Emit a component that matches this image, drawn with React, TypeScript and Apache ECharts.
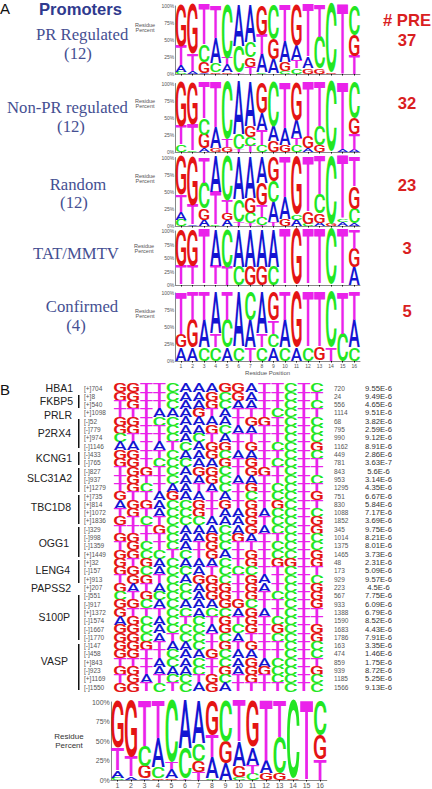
import React, { useEffect, useRef } from "react";
import * as echarts from "echarts";

const positions = ["1","2","3","4","5","6","7","8","9","10","11","12","13","14","15","16"];
const percentTicks = [0, 25, 50, 75, 100];

const prRegulated = ["C3 A9 T29 G59","A4 T25 G71","A2 G16 C25 T57","G2 C14 A37 T47","G2 A12 T9 C77","T2 C38 A60","T10 G14 C22 A54","C2 A27 T28 G43","A21 G29 C50","C4 G13 A31 T52","C8 T12 A22 G58","G8 A16 T76","G8 C46 T46","G2 C98","T100","T26 G31 C43"];
const nonPrRegulated = ["C10 T27 G63","C2 T38 G60","A5 G20 C23 T52","G5 A30 T65","G7 T11 C82","T4 C20 A76","T9 C13 G15 A63","C10 T21 A25 G44","G15 A22 C63","G10 A24 T66","C10 T10 A27 G53","A5 G17 T78","G10 C27 T63","C100","A3 T97","A3 T23 G23 C51"];
const randomSet = ["C9 A12 T24 G55","A2 T28 G70","A9 G16 C38 T37","C2 T47 A51","A9 G9 T19 C63","T5 C33 A62","T4 C15 G21 A60","T1 C12 T17 G32 A38","T5 A30 C31 G34","G10 A32 T58","A9 C8 G83","C3 G18 T79","A5 G13 C27 T55","G3 C97","A5 C4 T91","A4 C20 G33 T43"];
const tatMmtv = ["T34 G66","T34 G66","T100","T34 A66","T33 C67","C33 A67","G33 A67","G33 A67","C33 A67","T100","G100","T100","T100","C100","T100","A33 G33 T34"];
const confirmed = ["A20 G20 T60","A20 G40 T40","C20 A40 T40","C20 T20 A60","A20 C40 T40","C20 A80","T20 A40 C40","C20 T20 A60","A20 C20 T20 G40","C20 A40 T40","A20 G80","C20 T80","G20 T80","T20 C80","C40 T60","C20 A40 T40"];

const strandSites = ["[+]704","[+]8","[+]540","[+]1098","[-]52","[-]779","[+]974","[-]1146","[-]433","[-]765","[-]827","[-]937","[+]1279","[+]735","[+]814","[+]1072","[+]1836","[-]329","[-]998","[-]1359","[+]1449","[+]32","[-]157","[+]913","[+]207","[-]551","[-]917","[+]1372","[-]1574","[-]1667","[-]1770","[-]147","[-]458","[+]843","[-]923","[+]1169","[-]1550"];
const sequences = ["GGTTCAAAGGATTCTC","GGTTCAAGCGATTCTT","TGTTCAAGCAATTCTC","TTTAAAGTATTTCCTT","GGTCCAAAATGGTCTC","GGTTCAAGCAATTCTC","CTTTCACTATTTTCTC","AATATCAGGTGTCCTG","GGTTCAAGCAATTCTC","GGTCCCAAGTGTCCTT","TGGTCAGGCTGGTCTT","TGTTCAAGCAATTCTC","TGCTAATACTGTCCTT","GTTAGAATATCTCCTG","AGGACCGTGTGTGCTT","TGTACCGTAAGACCTC","GTCTCCCAAAGTCCTG","TTTGCAAACAGACCTG","GGTTCAAGCGATTCTC","TGCTCATGCTTTCCTC","GGCCTCTGATGTCCTG","GTGACAAACTGTGGTG","GGCACCATCCCTTCTT","TGGTCAGGCTGATCTC","GATACCAGGTGATCTG","CTGCCCAGGTGTCCTG","GGCACAAAGGCTTCTG","GTTTCCACCAGATCTT","AGCACTCTGTGTCCTT","GGCACCCAGCGTGCTG","GGCATCCTCATTCCTG","GGGTAACTGTGTTCTC","GGTTCAAGCAATTCTC","TTTACACTCAGACCTT","GGTAAACTGAGGCCTG","TGATCCTGCTGTCCTC","GGTCTCAGATTTTCTC"];
const stopSites = ["720","24","556","1114","68","795","990","1162","449","781","843","953","1295","751","830","1088","1852","345","1014","1375","1465","48","173","929","223","567","933","1388","1590","1683","1786","163","474","859","939","1185","1566"];
const eValues = ["9.55E-6","9.49E-6","4.65E-6","9.51E-6","3.82E-6","2.59E-6","9.12E-6","8.91E-6","2.86E-6","3.63E-7","5.6E-6","3.14E-6","4.35E-6","6.67E-6","5.84E-6","7.17E-6","3.69E-6","9.75E-6","8.21E-6","8.01E-6","3.73E-6","2.31E-6","5.09E-6","9.57E-6","4.5E-6","7.75E-6","6.09E-6","6.79E-6","8.52E-6","4.43E-6","7.91E-6","3.35E-6","1.46E-6","1.75E-6","8.72E-6","5.25E-6","9.13E-6"];

const LETTERS = ["A", "C", "G", "T"];
const COLORS: Record<string, string> = { A: "#1414d2", C: "#22e622", G: "#e41414", T: "#ea22ea" };
const INK: Record<string, number> = { A: 13, C: 11.9, G: 12.1, T: 11.6 };
const CAP = 14.2;
const SERIF = "'Liberation Serif', serif";
const SANS = "'Liberation Sans', Arial, sans-serif";
const TITLE_BLUE = "#454f92";
const AXIS_TEXT = "#555";

function letterItem(cx: number, cy: number, w: number, h: number, letter: string) {
  return {
    type: "text",
    x: cx,
    y: cy,
    scaleX: w / INK[letter],
    scaleY: h / CAP,
    silent: true,
    style: {
      text: letter,
      font: `500 20px Roboto, ${SANS}`,
      fill: COLORS[letter],
      align: "center",
      verticalAlign: "middle",
      textAlign: "center",
      textVerticalAlign: "middle",
    },
  };
}

function renderStackLetter(_: any, api: any) {
  const col = api.value(0);
  const p0 = api.coord([col, api.value(1)]);
  const p1 = api.coord([col, api.value(2)]);
  const band = api.size([1, 0])[0];
  return letterItem(p0[0], (p0[1] + p1[1]) / 2, band * 0.96, Math.abs(p0[1] - p1[1]), LETTERS[api.value(3)]);
}

function renderRowLetter(_: any, api: any) {
  const p = api.coord([api.value(0), api.value(1)]);
  const s = api.size([1, 1]);
  return letterItem(p[0], p[1], s[0] * 0.96, s[1] * 1.08, LETTERS[api.value(2)]);
}

function stackData(stacks: string[]) {
  const rows: number[][] = [];
  stacks.forEach((stack, col) => {
    let y = 0;
    stack.split(" ").forEach((t) => {
      const v = Number(t.slice(1));
      rows.push([col, y, y + v, LETTERS.indexOf(t[0])]);
      y += v;
    });
  });
  return rows;
}

const logos = [
  { stacks: prRegulated, top: 6, bottom: 74, left: 175.2, width: 184.8, fs: 5, bottomLabels: false },
  { stacks: nonPrRegulated, top: 83.5, bottom: 152, left: 175.2, width: 184.8, fs: 5, bottomLabels: false },
  { stacks: randomSet, top: 157.5, bottom: 226, left: 175.2, width: 184.8, fs: 5, bottomLabels: false },
  { stacks: tatMmtv, top: 231, bottom: 285, left: 175.2, width: 184.8, fs: 5, bottomLabels: false },
  { stacks: confirmed, top: 293, bottom: 361, left: 175.2, width: 184.8, fs: 5, bottomLabels: true },
  { stacks: prRegulated, top: 702, bottom: 782, left: 110.8, width: 216, fs: 7, bottomLabels: true },
];

function txt(text: string, x: number, y: number, font: string, fill: string, textAlign = "left") {
  return { type: "text", x, y, silent: true, style: { text, x: 0, y: 0, font, fill, align: textAlign, verticalAlign: "middle" } };
}

const geneLabels: [string, number, number][] = [
  ["HBA1", 73, 388], ["FKBP5", 73, 401], ["PRLR", 72, 415], ["P2RX4", 71, 433], ["KCNG1", 72, 458], ["SLC31A2", 72, 478],
  ["TBC1D8", 71, 507], ["OGG1", 69, 543], ["LENG4", 70, 570], ["PAPSS2", 71, 588], ["S100P", 70, 617], ["VASP", 68, 661],
];
const geneBars: [number, number][] = [[395, 408], [419, 448], [452, 465], [468, 492], [495, 524], [527, 557], [560, 583], [595, 640], [644, 690]];

function buildOption() {
  const grid: any[] = [];
  const xAxis: any[] = [];
  const yAxis: any[] = [];
  const series: any[] = [];

  logos.forEach((l, i) => {
    grid.push({ left: l.left, top: l.top, width: l.width, height: l.bottom - l.top, containLabel: false });
    xAxis.push({
      type: "category", gridIndex: i, data: positions, boundaryGap: true,
      axisLine: { show: true, lineStyle: { color: "#888", width: 1 } },
      axisTick: { show: true, alignWithLabel: true, length: 1.5, lineStyle: { color: "#111", width: 1 } },
      axisLabel: { show: l.bottomLabels, interval: 0, fontSize: l.fs, color: AXIS_TEXT, fontFamily: SANS, margin: 2 },
      splitLine: { show: false },
      name: i === 4 ? "Residue Position" : "",
      nameLocation: "middle", nameGap: 8.5,
      nameTextStyle: { fontSize: 6, color: AXIS_TEXT, fontFamily: SANS },
    });
    yAxis.push({
      type: "value", gridIndex: i, min: 0, max: 100, interval: 25,
      axisLine: { show: true, lineStyle: { color: "#888", width: 1 } },
      axisTick: { show: false },
      splitLine: { show: false },
      axisLabel: {
        fontSize: l.fs, color: AXIS_TEXT, fontFamily: SANS, margin: 1,
        customValues: percentTicks,
        formatter: (v: number) => `${v}%`,
        padding: [0, 0, 3, 0],
      },
    });
    series.push({
      type: "custom", xAxisIndex: i, yAxisIndex: i, coordinateSystem: "cartesian2d",
      clip: false, silent: true, renderItem: renderStackLetter,
      encode: { x: 0, y: [1, 2] }, data: stackData(l.stacks),
    });
  });

  const gi = logos.length;
  grid.push({ left: 113.5, top: 383.85, width: 210, height: 307.5 });
  xAxis.push({
    type: "category", gridIndex: gi, data: positions,
    axisLine: { show: false }, axisTick: { show: false }, axisLabel: { show: false }, splitLine: { show: false },
  });
  const rowAxis = (labels: string[], position: string, label: any) => ({
    type: "category", gridIndex: gi, data: labels, inverse: true, position,
    axisLine: { show: false }, axisTick: { show: false }, splitLine: { show: false },
    axisLabel: { interval: 0, fontFamily: SANS, padding: [2, 0, 0, 0], ...label },
  });
  const bIndex = yAxis.length;
  yAxis.push(rowAxis(strandSites, "left", { fontSize: 6.5, color: AXIS_TEXT, align: "left", margin: 29.5 }));
  yAxis.push(rowAxis(stopSites, "right", { fontSize: 6.5, color: AXIS_TEXT, align: "left", margin: 10.5 }));
  yAxis.push(rowAxis(eValues, "right", { fontSize: 7.7, color: "#333", align: "center", margin: 55 }));

  const rowData: number[][] = [];
  sequences.forEach((seq, r) => seq.split("").forEach((c, col) => rowData.push([col, r, LETTERS.indexOf(c)])));
  series.push({
    type: "custom", xAxisIndex: gi, yAxisIndex: bIndex, coordinateSystem: "cartesian2d",
    clip: false, silent: true, renderItem: renderRowLetter, encode: { x: 0, y: 1 }, data: rowData,
  });

  const red = "#d9201f";
  const big = `bold 16.6px ${SANS}`;
  const serif = `16.7px ${SERIF}`;
  const small = `5.5px ${SANS}`;
  const elements: any[] = [
    txt("A", 0, 8.5, `15px ${SANS}`, "#111"),
    txt("B", 0, 389, `15px ${SANS}`, "#111"),
    txt("Promoters", 39, 9, `bold 16.6px ${SANS}`, "#2f3a8e"),
    txt("PR Regulated", 36, 34, serif, TITLE_BLUE),
    txt("(12)", 78, 53, serif, TITLE_BLUE, "center"),
    txt("Non-PR regulated", 7, 107, serif, TITLE_BLUE),
    txt("(12)", 71, 126, serif, TITLE_BLUE, "center"),
    txt("Random", 78, 184, serif, TITLE_BLUE, "center"),
    txt("(12)", 74, 202, serif, TITLE_BLUE, "center"),
    txt("TAT/MMTV", 76, 253, serif, TITLE_BLUE, "center"),
    txt("Confirmed", 82, 306, serif, TITLE_BLUE, "center"),
    txt("(4)", 76, 325, serif, TITLE_BLUE, "center"),
    txt("# PRE", 383, 20, big, red),
    txt("37", 407, 40, big, red, "center"),
    txt("32", 407, 103, big, red, "center"),
    txt("23", 407, 185, big, red, "center"),
    txt("3", 407, 248, big, red, "center"),
    txt("5", 407, 311, big, red, "center"),
    txt("Residue", 145, 25, small, AXIS_TEXT, "center"), txt("Percent", 145, 30, small, AXIS_TEXT, "center"),
    txt("Residue", 145, 101, small, AXIS_TEXT, "center"), txt("Percent", 145, 106, small, AXIS_TEXT, "center"),
    txt("Residue", 145, 176, small, AXIS_TEXT, "center"), txt("Percent", 145, 181, small, AXIS_TEXT, "center"),
    txt("Residue", 144, 246, small, AXIS_TEXT, "center"), txt("Percent", 144, 250.5, small, AXIS_TEXT, "center"),
    txt("Residue", 145, 311, small, AXIS_TEXT, "center"), txt("Percent", 145, 315.5, small, AXIS_TEXT, "center"),
    txt("Residue", 69, 736, `8px ${SANS}`, "#333", "center"), txt("Percent", 69, 745, `8px ${SANS}`, "#333", "center"),
  ];
  geneLabels.forEach(([g, x, y]) => elements.push(txt(g, x, y, `10.5px ${SANS}`, "#222", "right")));
  geneBars.forEach(([y0, y1]) => elements.push({ type: "rect", silent: true, shape: { x: 78, y: y0, width: 1.5, height: y1 - y0 }, style: { fill: "#111" } }));

  return { animation: false, backgroundColor: "#fff", grid, xAxis, yAxis, series, graphic: { elements } };
}

export default function App() {
  const ref = useRef<HTMLDivElement>(null);
  useEffect(() => {
    const chart = echarts.init(ref.current!, undefined, { renderer: "svg" });
    chart.setOption(buildOption() as any);
    return () => chart.dispose();
  }, []);
  return <div ref={ref} style={{ position: "absolute", left: 0, top: 0, width: 432, height: 789 }} />;
}
